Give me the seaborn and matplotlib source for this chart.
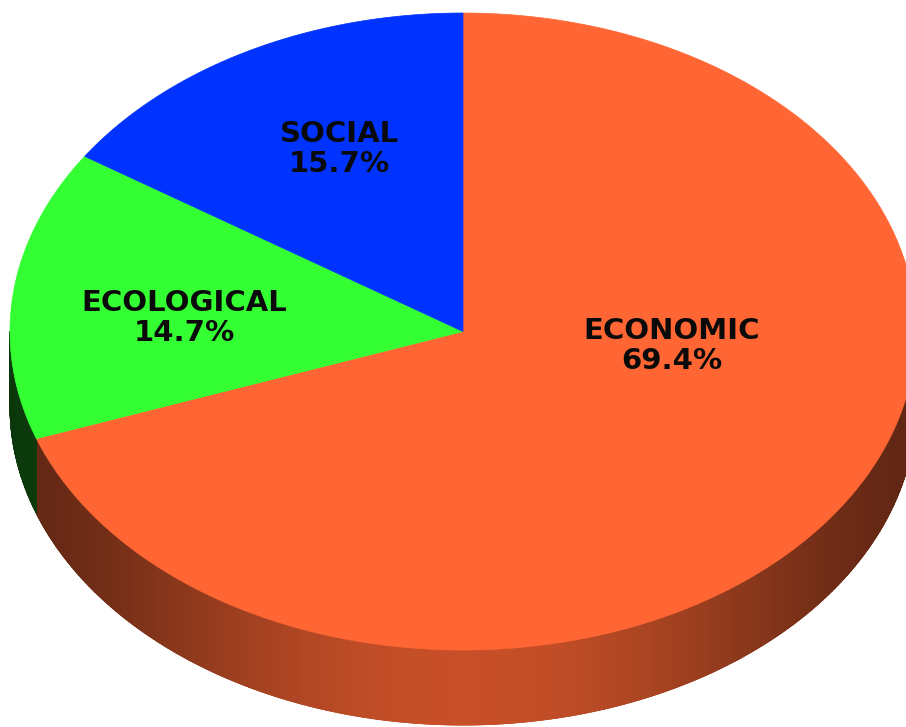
import numpy as np
import seaborn as sns
import matplotlib.pyplot as plt
from matplotlib.collections import PolyCollection
from matplotlib.colors import to_rgb

categories = ["ECONOMIC", "ECOLOGICAL", "SOCIAL"]
shares = [69.4, 14.7, 15.7]
top_colors = ["#ff6633", "#33ff33", "#0033ff"]
label_pos = [(672, 346), (184, 318), (339, 149)]

# ellipse geometry in pixel units
cx, cy = 463, 331.5
a, b = 453, 318.5
depth = 75

sns.set_theme(style="white")
plt.rcParams['font.family'] = ['DejaVu Sans']

fig = plt.figure(figsize=(9.06, 7.27), dpi=100)
ax = fig.add_axes([0, 0, 1, 1])
ax.set_xlim(0, 906)
ax.set_ylim(727, 0)
ax.axis('off')


def pt(theta, dy=0.0):
    return cx + a * np.cos(theta), cy - b * np.sin(theta) + dy


# wedge angle ranges, clockwise from 12 o'clock
spans = np.array(shares) / sum(shares) * 360
ends = 90 - np.cumsum(spans)
starts = ends + spans

# side band, drawn as thin shaded strips
polys, cols = [], []
for s, e, c in zip(starts, ends, top_colors):
    for off in (0, 360):
        # visible front part lies in (-180, 0) or (180, 360)
        if off == 0:
            l, h = max(e, -180), min(s, 0)
        else:
            l, h = max(e + off, 180), min(s + off, 360)
        if h <= l:
            continue
        th = np.radians(np.linspace(l, h, max(int((h - l) * 3), 2)))
        for t0, t1 in zip(th[:-1], th[1:]):
            x0, y0 = pt(t0)
            x1, y1 = pt(t1)
            polys.append([(x0, y0), (x1, y1), (x1, y1 + depth), (x0, y0 + depth)])
            u = np.cos((t0 + t1) / 2)
            if c == "#33ff33":
                shade = 0.22 + 0.4 * np.cos(u * np.pi / 2) ** 1.5
            else:
                shade = 0.38 + 0.40 * np.cos(u * np.pi / 2) ** 1.5
            cols.append(tuple(np.array(to_rgb(c)) * shade))

ax.add_collection(PolyCollection(polys, facecolors=cols, edgecolors=cols, linewidths=0.6))

# top face
for s, e, c in zip(starts, ends, top_colors):
    th = np.radians(np.linspace(s, e, 300))
    xs, ys = pt(th)
    ax.fill(np.r_[cx, xs], np.r_[cy, ys], color=c, lw=0.5, ec=c)

for name, val, (x, y) in zip(categories, shares, label_pos):
    ax.text(x, y, f"{name}\n{val:.1f}%", ha='center', va='center',
            fontsize=21, fontweight='bold', color='#0a0a0a', linespacing=1.1)

plt.savefig("out.png", dpi=100)
